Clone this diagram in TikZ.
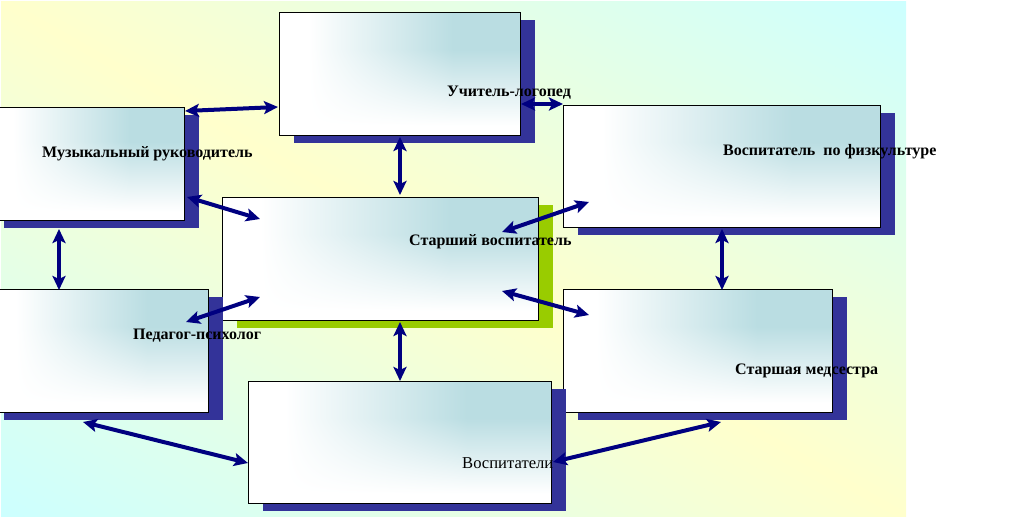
\documentclass[tikz,border=0pt]{standalone}
\usepackage{fontspec}
\setmainfont{Liberation Serif}
\usetikzlibrary{arrows.meta,calc,shadows}

\definecolor{shadowblue}{RGB}{51,51,153}
\definecolor{shadowgreen}{RGB}{153,204,0}
\definecolor{arrownavy}{RGB}{0,0,128}

\pgfdeclarefunctionalshading{bgshade}{\pgfpoint{0bp}{0bp}}{\pgfpoint{906bp}{517bp}}{}{
  exch 906 div exch 517 div 1 exch sub sub abs
  dup 0.2 mul 1 exch sub exch 0.2 mul 0.8 add 1 exch
}
\pgfdeclarefunctionalshading{boxfn}{\pgfpoint{0bp}{0bp}}{\pgfpoint{100bp}{100bp}}{}{
  100 div 0.08 sub 0.62 div dup 0 lt {pop 0} if dup 1 gt {pop 1} if
  exch 100 div 0.12 sub 0.6 div dup 0 lt {pop 0} if dup 1 gt {pop 1} if
  mul
  dup 0.271 mul 1 exch sub
  exch dup 0.133 mul 1 exch sub
  exch 0.114 mul 1 exch sub
}

\newcommand{\boxgrad}{%
  \pgfpointanchor{path picture bounding box}{south west}\pgfgetlastxy{\bxa}{\bya}%
  \pgfpointanchor{path picture bounding box}{north east}\pgfgetlastxy{\bxb}{\byb}%
  \pgfmathsetmacro{\sx}{(\bxb-\bxa)/100.375}\pgfmathsetmacro{\sy}{(\byb-\bya)/100.375}%
  \pgfmathsetmacro{\cx}{(\bxb+\bxa)/2}\pgfmathsetmacro{\cy}{(\byb+\bya)/2}%
  \begin{pgfscope}
    \pgftransformshift{\pgfpoint{\cx pt}{\cy pt}}%
    \pgftransformxscale{\sx}\pgftransformyscale{\sy}%
    \pgflowlevelsynccm
    \pgfuseshading{boxfn}%
  \end{pgfscope}}

\tikzset{
  orgbox/.style={draw=black, line width=1.2bp, fill=white, inner sep=0pt,
    anchor=north west, minimum width=#1, path picture={\boxgrad}},
  blueshadow/.style={drop shadow={shadow xshift=14bp, shadow yshift=-7bp,
    fill=shadowblue, opacity=1}},
  greenshadow/.style={drop shadow={shadow xshift=14bp, shadow yshift=-7bp,
    fill=shadowgreen, opacity=1}},
  link/.style={draw=arrownavy, line width=4bp,
    {Stealth[length=14bp,width=13bp,inset=3bp]}-{Stealth[length=14bp,width=13bp,inset=3bp]}},
  lbl/.style={anchor=base west, inner sep=0pt, font=\fontsize{16bp}{19bp}\selectfont\bfseries},
  lblr/.style={anchor=base west, inner sep=0pt, font=\fontsize{16.6bp}{19bp}\selectfont}
}

\begin{document}
\begin{tikzpicture}[x=1bp, y=-1bp]
\useasboundingbox (0,0) rectangle (1013,517);
\node[inner sep=0pt, anchor=north west] (bg) at (0,0) {\pgfuseshading{bgshade}};

% boxes
\node[orgbox=241bp, minimum height=123bp, blueshadow] (logo) at (279,12) {};
\node[orgbox=195bp, minimum height=113bp, blueshadow] (music) at (-11,107) {};
\node[orgbox=317bp, minimum height=122bp, blueshadow] (phys) at (563,105) {};
\node[orgbox=316bp, minimum height=123bp, greenshadow] (senior) at (222,197) {};
\node[orgbox=219bp, minimum height=123bp, blueshadow] (psych) at (-11,289) {};
\node[orgbox=269bp, minimum height=123bp, blueshadow] (nurse) at (563,289) {};
\node[orgbox=303bp, minimum height=122bp, blueshadow] (teach) at (248,381) {};

% connector ends
\coordinate (a1s) at (185,111);  \coordinate (a1e) at (278,107);
\coordinate (a2s) at (521,104);  \coordinate (a2e) at (563,104);
\coordinate (a3s) at (400,137);  \coordinate (a3e) at (400,195);
\coordinate (a4s) at (187,197);  \coordinate (a4e) at (260,219);
\coordinate (a5s) at (502,232);  \coordinate (a5e) at (589,202);
\coordinate (a6s) at (722,229);  \coordinate (a6e) at (722,290);
\coordinate (a7s) at (59,229);   \coordinate (a7e) at (59,290);
\coordinate (a8s) at (186,322);  \coordinate (a8e) at (260,297);
\coordinate (a9s) at (502,291);  \coordinate (a9e) at (589,315);
\coordinate (a10s) at (400,322); \coordinate (a10e) at (400,381);
\coordinate (a11s) at (83,422);  \coordinate (a11e) at (248,463);
\coordinate (a12s) at (553,462); \coordinate (a12e) at (721,422);

\draw[link] (a1s) -- (a1e);
\draw[link] (a2s) -- (a2e);
\draw[link] (a3s) -- (a3e);
\draw[link] (a4s) -- (a4e);
\draw[link] (a5s) -- (a5e);
\draw[link] (a6s) -- (a6e);
\draw[link] (a7s) -- (a7e);
\draw[link] (a8s) -- (a8e);
\draw[link] (a9s) -- (a9e);
\draw[link] (a10s) -- (a10e);
\draw[link] (a11s) -- (a11e);
\draw[link] (a12s) -- (a12e);

% labels
\node[lbl] (tlogo) at (447,97) {Учитель-логопед};
\node[lbl] (tmusic) at (42,158) {Музыкальный руководитель};
\node[lbl] (tphys) at (723,156) {Воспитатель\ \ по физкультуре};
\node[lbl] (tsenior) at (409,246) {Старший воспитатель};
\node[lbl] (tpsych) at (133,340) {Педагог-психолог};
\node[lbl] (tnurse) at (735,375) {Старшая медсестра};
\node[lblr] (tteach) at (462,468) {Воспитатели};
\end{tikzpicture}
\end{document}
